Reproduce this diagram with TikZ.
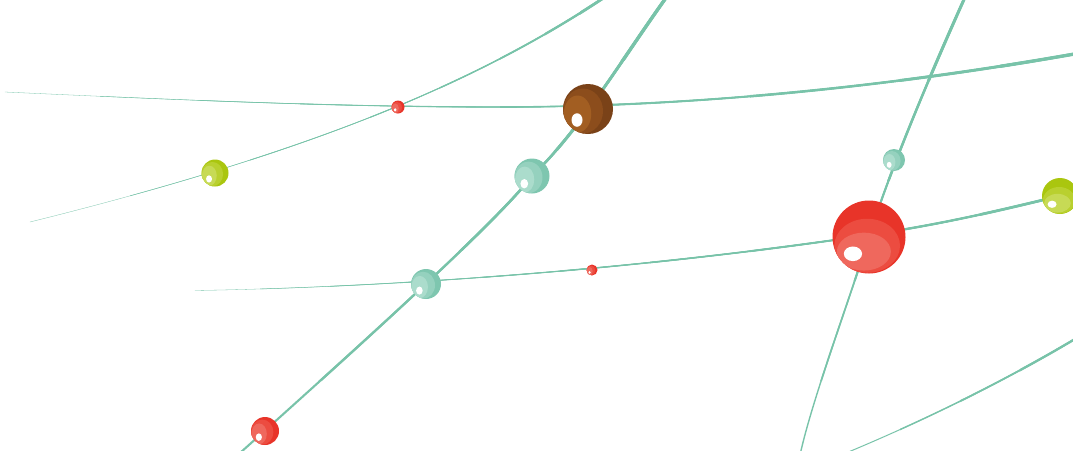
\documentclass[tikz,border=0pt]{standalone}
\usetikzlibrary{calc}
\definecolor{lnc}{HTML}{78C3A9}
\definecolor{tealA}{HTML}{7EC6AF}\definecolor{tealB}{HTML}{95D1BE}\definecolor{tealC}{HTML}{ABDCCC}
\definecolor{limeA}{HTML}{AAC60F}\definecolor{limeB}{HTML}{B9D02F}\definecolor{limeC}{HTML}{C7DA55}
\definecolor{brA}{HTML}{7A4218}\definecolor{brB}{HTML}{8C4D1C}\definecolor{brC}{HTML}{A25E22}
\definecolor{rdA}{HTML}{E83429}\definecolor{rdB}{HTML}{EC4C40}\definecolor{rdC}{HTML}{EF685D}
\tikzset{ln/.style={draw=lnc,line cap=round,line join=round}}
% taper: thicker where x >= x0
\newcommand\taperx[2]{\foreach \w/\xa in {#1}{\begin{scope}\clip (\xa,-60) rectangle (1200,520);
 \draw[ln,line width=\w pt] #2;\end{scope}}}
% taper: thicker where y <= y0
\newcommand\tapery[2]{\foreach \w/\ya in {#1}{\begin{scope}\clip (-60,-60) rectangle (1200,\ya);
 \draw[ln,line width=\w pt] #2;\end{scope}}}
% ball, layers toward lower left
\newcommand\ballL[6]{\begin{scope}
 \fill[#4] (#1,#2) circle[radius=#3pt];
 \clip (#1,#2) circle[radius=#3pt];
 \pgfmathsetmacro\ra{0.80*#3}\pgfmathsetmacro\rb{0.90*#3}
 \fill[#5] ({#1-0.2*#3},{#2+0.08*#3}) ellipse[x radius=\ra pt,y radius=\rb pt];
 \pgfmathsetmacro\ra{0.55*#3}\pgfmathsetmacro\rb{0.74*#3}
 \fill[#6] ({#1-0.42*#3},{#2+0.2*#3}) ellipse[x radius=\ra pt,y radius=\rb pt];
 \pgfmathsetmacro\ra{0.22*#3}\pgfmathsetmacro\rb{0.27*#3}
 \fill[white] ({#1-0.44*#3},{#2+0.44*#3}) ellipse[x radius=\ra pt,y radius=\rb pt];
\end{scope}}
% ball, layers toward bottom
\newcommand\ballD[6]{\begin{scope}
 \fill[#4] (#1,#2) circle[radius=#3pt];
 \clip (#1,#2) circle[radius=#3pt];
 \pgfmathsetmacro\ra{0.90*#3}\pgfmathsetmacro\rb{0.74*#3}
 \fill[#5] ({#1-0.05*#3},{#2+0.24*#3}) ellipse[x radius=\ra pt,y radius=\rb pt];
 \pgfmathsetmacro\ra{0.74*#3}\pgfmathsetmacro\rb{0.52*#3}
 \fill[#6] ({#1-0.14*#3},{#2+0.4*#3}) ellipse[x radius=\ra pt,y radius=\rb pt];
 \pgfmathsetmacro\ra{0.25*#3}\pgfmathsetmacro\rb{0.2*#3}
 \fill[white] ({#1-0.44*#3},{#2+0.46*#3}) ellipse[x radius=\ra pt,y radius=\rb pt];
\end{scope}}
\begin{document}
\begin{tikzpicture}[x=1pt,y=-1pt]
\useasboundingbox (0,0) rectangle (1073,450);
\clip (0,0) rectangle (1073,450);
% curve A
\taperx{0.3/-60,0.5/130,0.75/250,1.0/370,1.4/440,1.8/500,2.3/545,2.8/580}
 {(605,-3) .. controls (480,80) and (320,150) .. (30,222)}
% curve B
\taperx{0.3/-60,0.45/100,0.65/200,0.9/300,1.2/400,1.6/500,2.0/600,2.5/750,2.9/900,3.3/1000}
 {(5,92) .. controls (200,101) and (350,107) .. (500,107) .. controls (700,107) and (900,85) .. (1080,53)}
% curve C
\tapery{2.1/520,2.3/380,2.6/250,3.0/150,3.4/60}
 {(668,-5) .. controls (620,62) and (580,130) .. (532,176) .. controls (495,225) and (330,372) .. (240,453)}
% curve D
\tapery{1.4/520,1.7/380,2.1/280,2.5/180,3.0/80}
 {(966,-5) .. controls (930,75) and (890,170) .. (869,237) .. controls (848,304) and (812,400) .. (800,455)}
% curve E
\taperx{0.3/-60,0.5/260,0.7/330,0.9/400,1.1/480,1.4/560,1.6/650,1.9/750,2.3/870,2.7/980}
 {(195,290.5) .. controls (350,288) and (600,275) .. (869,235) .. controls (950,223) and (1010,208) .. (1080,191)}
% curve F
\taperx{1.0/-60,1.4/900,1.8/960,2.3/1020}
 {(846,453) .. controls (930,418) and (1010,378) .. (1080,336)}
% balls
\ballL{398}{107}{6.5}{rdA}{rdB}{rdC}
\ballL{215}{173}{13.5}{limeA}{limeB}{limeC}
\ballL{588}{109}{25}{brA}{brB}{brC}
\ballL{532}{176}{17.5}{tealA}{tealB}{tealC}
\ballL{426}{284}{15}{tealA}{tealB}{tealC}
\ballL{592}{270}{5.5}{rdA}{rdB}{rdC}
\ballL{265}{431}{14}{rdA}{rdB}{rdC}
\ballL{894}{160}{11}{tealA}{tealB}{tealC}
\ballD{869}{237}{36.5}{rdA}{rdB}{rdC}
\ballD{1060}{196}{18}{limeA}{limeB}{limeC}
\end{tikzpicture}
\end{document}
